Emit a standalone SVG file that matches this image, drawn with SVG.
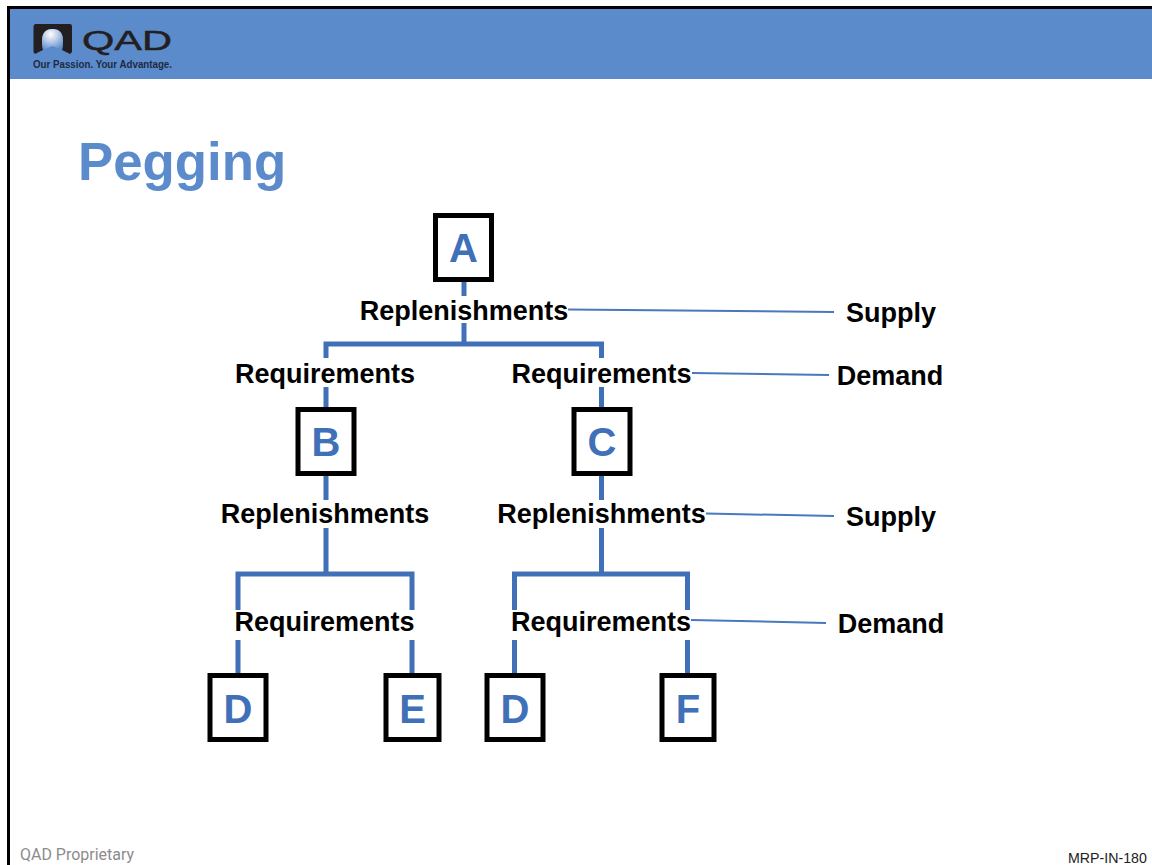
<svg xmlns="http://www.w3.org/2000/svg" width="1152" height="865" viewBox="0 0 1152 865">
<style>
.box{fill:#fff;stroke:#000;stroke-width:5}
.letter{font:bold 40px "Liberation Sans",Arial,sans-serif;fill:#4070b8;text-anchor:middle}
.label{font:bold 27px "Liberation Sans",Arial,sans-serif;fill:#000;text-anchor:middle}
.thick{stroke:#4070b8;stroke-width:5;fill:none}
.thin{stroke:#4a78bc;stroke-width:2;fill:none}
</style>
<defs>
<radialGradient id="sphere" cx="0.42" cy="0.25" r="0.8">
<stop offset="0" stop-color="#fff"/><stop offset="0.45" stop-color="#b8cbe8"/><stop offset="1" stop-color="#5b8bcb"/>
</radialGradient>
</defs>
<rect width="1152" height="865" fill="#fff"/>
<rect x="10" y="9" width="1142" height="70" fill="#5b8bcb"/>
<path d="M8.500 865V7.500H1152" fill="none" stroke="#000" stroke-width="3"/>
<g id="logo">
<path d="M36 24H70Q72 24 72 27V52L70 54L62 50Q63 45 63 41Q63 29 52.500 29Q42 29 42 41Q42 45 43 50L35 54L33.500 52V27Q33.500 24 36 24Z" fill="#231f20"/>
<path d="M42 41Q42 29 52.500 29Q63 29 63 41Q63 46 62 50L52.500 46L43 50Q42 46 42 41Z" fill="url(#sphere)"/>
<text x="82" y="49.500" font-family="'Liberation Sans',Arial,sans-serif" font-size="27" fill="#231f20" stroke="#231f20" stroke-width="0.5" textLength="90" lengthAdjust="spacingAndGlyphs">QAD</text>
<text x="33" y="67.500" font-family="'Liberation Sans',Arial,sans-serif" font-size="10.500" font-weight="bold" fill="#1d2a44" textLength="139" lengthAdjust="spacingAndGlyphs">Our Passion. Your Advantage.</text>
</g>
<text x="78" y="180" font-family="'Liberation Sans',Arial,sans-serif" font-size="52.800" font-weight="bold" fill="#5b8bcb">Pegging</text>
<g id="connectors">
<path class="thick" d="M464 282V296M464 323V344M326 358V344H601.500V358M326 387V408M601.500 387V408M326 475V500M601.500 475V500M326 528V574M601.500 528V574M238 610V574H412V610M514.500 610V574H687.500V610M238 640V673M412 640V673M514.500 640V673M687.500 640V673"/>
<path class="thin" d="M568 309.500L834 312M692 373L829 375M706 513.500L834 516M691 620L826 623"/>
</g>
<g id="node-a"><rect class="box" x="435.500" y="215.500" width="56" height="64"/><text class="letter" x="463.500" y="262">A</text></g>
<g id="node-b"><rect class="box" x="298" y="409.500" width="56" height="64"/><text class="letter" x="326" y="456">B</text></g>
<g id="node-c"><rect class="box" x="574" y="409.500" width="56" height="64"/><text class="letter" x="602" y="456">C</text></g>
<g id="node-d1"><rect class="box" x="210" y="675.500" width="56" height="64"/><text class="letter" x="238" y="723">D</text></g>
<g id="node-e"><rect class="box" x="386" y="675.500" width="53" height="64"/><text class="letter" x="412.500" y="723">E</text></g>
<g id="node-d2"><rect class="box" x="487" y="675.500" width="56" height="64"/><text class="letter" x="515" y="723">D</text></g>
<g id="node-f"><rect class="box" x="662" y="675.500" width="52" height="64"/><text class="letter" x="688" y="723">F</text></g>
<g id="labels">
<text class="label" x="464" y="320">Replenishments</text>
<text class="label" x="325" y="383">Requirements</text>
<text class="label" x="601.500" y="383">Requirements</text>
<text class="label" x="325" y="523">Replenishments</text>
<text class="label" x="601.500" y="523">Replenishments</text>
<text class="label" x="324.500" y="631">Requirements</text>
<text class="label" x="601" y="631">Requirements</text>
<text class="label" x="891" y="322">Supply</text>
<text class="label" x="890" y="385">Demand</text>
<text class="label" x="891" y="526">Supply</text>
<text class="label" x="891" y="633">Demand</text>
</g>
<text x="20" y="860" font-family="Roboto,'Open Sans',sans-serif" font-size="16" fill="#8c8c8c" textLength="114" lengthAdjust="spacingAndGlyphs">QAD Proprietary</text>
<text x="1068" y="863" font-family="'Liberation Sans',Arial,sans-serif" font-size="14.200" fill="#222">MRP-IN-180</text>
</svg>
